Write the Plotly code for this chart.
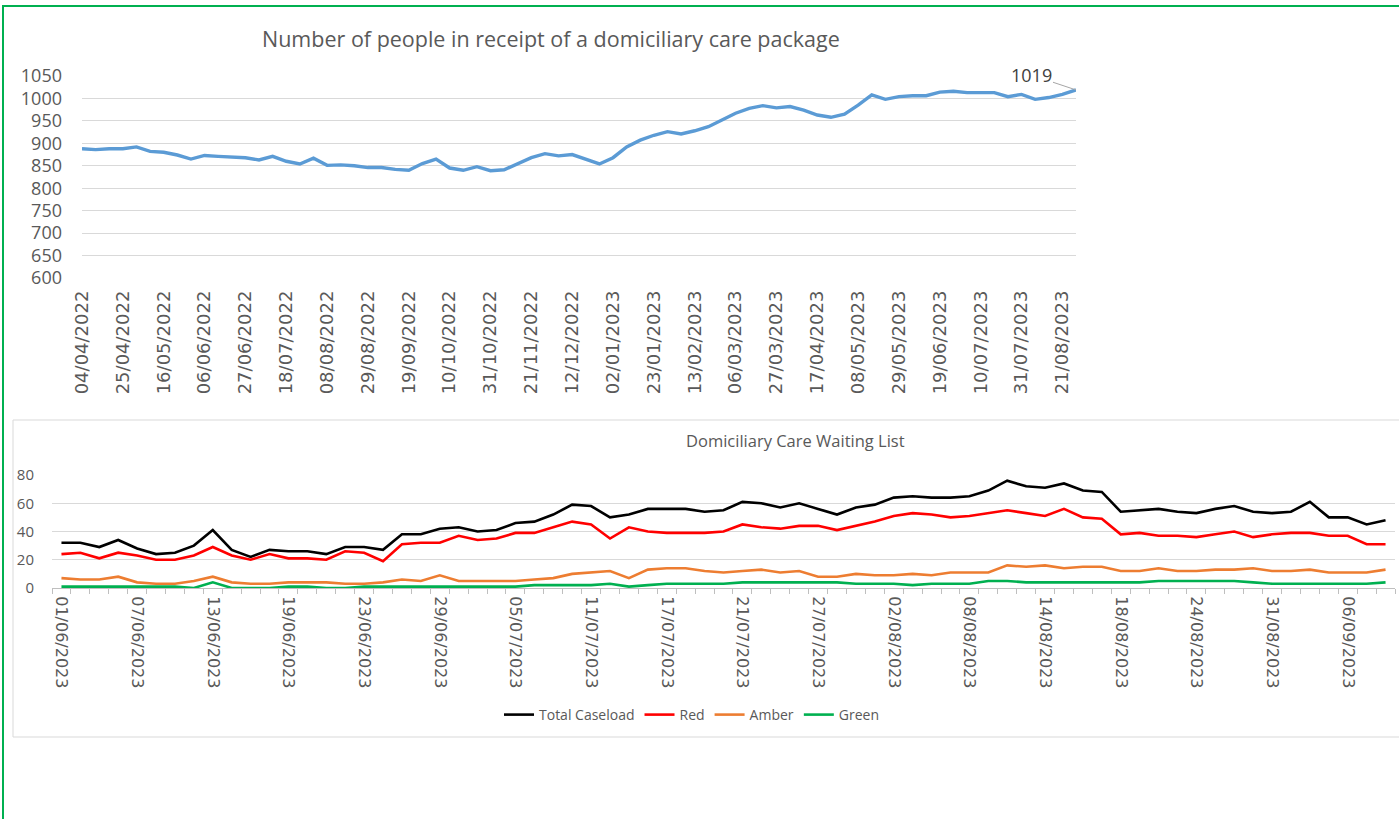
import pandas as pd
import plotly.graph_objects as go

W, H = 1399, 819

# ---- data: weekly count of people with a domiciliary care package ----
week_dates = pd.date_range("2022-04-04", periods=74, freq="7D").strftime("%d/%m/%Y").tolist()
care_packages = [
    888, 886, 888, 888, 892, 882, 880, 874, 865, 873,
    871, 870, 868, 863, 871, 860, 854, 867, 851, 852,
    850, 846, 846, 842, 840, 855, 865, 845, 840, 848,
    839, 841, 855, 868, 877, 872, 875, 865, 854, 868,
    892, 907, 918, 926, 921, 928, 937, 952, 967, 978,
    984, 979, 982, 974, 963, 958, 965, 985, 1008, 998,
    1004, 1006, 1006, 1014, 1016, 1013, 1013, 1013, 1004, 1009,
    998, 1002, 1009, 1019,
]

# ---- data: waiting list (working days, 28/08 bank holiday excluded) ----
wl_dates = [d for d in pd.bdate_range("2023-06-01", "2023-09-08") if d != pd.Timestamp("2023-08-28")]
wl_dates = [d.strftime("%d/%m/%Y") for d in wl_dates]
total_caseload = [
    32, 32, 29, 34, 28, 24, 25, 30, 41, 27, 22, 27, 26, 26, 24, 29, 29, 27, 38, 38,
    42, 43, 40, 41, 46, 47, 52, 59, 58, 50, 52, 56, 56, 56, 54, 55, 61, 60, 57, 60,
    56, 52, 57, 59, 64, 65, 64, 64, 65, 69, 76, 72, 71, 74, 69, 68, 54, 55, 56, 54,
    53, 56, 58, 54, 53, 54, 61, 50, 50, 45, 48,
]
red = [
    24, 25, 21, 25, 23, 20, 20, 23, 29, 23, 20, 24, 21, 21, 20, 26, 25, 19, 31, 32,
    32, 37, 34, 35, 39, 39, 43, 47, 45, 35, 43, 40, 39, 39, 39, 40, 45, 43, 42, 44,
    44, 41, 44, 47, 51, 53, 52, 50, 51, 53, 55, 53, 51, 56, 50, 49, 38, 39, 37, 37,
    36, 38, 40, 36, 38, 39, 39, 37, 37, 31, 31,
]
amber = [
    7, 6, 6, 8, 4, 3, 3, 5, 8, 4, 3, 3, 4, 4, 4, 3, 3, 4, 6, 5,
    9, 5, 5, 5, 5, 6, 7, 10, 11, 12, 7, 13, 14, 14, 12, 11, 12, 13, 11, 12,
    8, 8, 10, 9, 9, 10, 9, 11, 11, 11, 16, 15, 16, 14, 15, 15, 12, 12, 14, 12,
    12, 13, 13, 14, 12, 12, 13, 11, 11, 11, 13,
]
green = [
    1, 1, 1, 1, 1, 1, 1, 0, 4, 0, 0, 0, 1, 1, 0, 0, 1, 1, 1, 1,
    1, 1, 1, 1, 1, 2, 2, 2, 2, 3, 1, 2, 3, 3, 3, 3, 4, 4, 4, 4,
    4, 4, 3, 3, 3, 2, 3, 3, 3, 5, 5, 4, 4, 4, 4, 4, 4, 4, 5, 5,
    5, 5, 5, 4, 3, 3, 3, 3, 3, 3, 4,
]

SERIES = [
    ("Total Caseload", total_caseload, "#000000"),
    ("Red", red, "#FF0000"),
    ("Amber", amber, "#ED7D31"),
    ("Green", green, "#00B050"),
]

GREY_TXT = "#595959"
GRID = "#D9D9D9"


def px(x):
    return x / W


def py(y):
    return 1 - y / H


fig = go.Figure()

# top chart
fig.add_trace(go.Scatter(
    x=week_dates, y=care_packages, mode="lines",
    line=dict(color="#5B9BD5", width=3.4),
    showlegend=False, xaxis="x", yaxis="y",
))

# bottom chart
for name, vals, col in SERIES:
    fig.add_trace(go.Scatter(
        x=wl_dates, y=vals, mode="lines", name=name,
        line=dict(color=col, width=2.6),
        xaxis="x2", yaxis="y2",
    ))

wl_ticktext = [d if i % 4 == 0 else "" for i, d in enumerate(wl_dates)]

fig.update_layout(
    width=W, height=H,
    margin=dict(l=0, r=0, t=0, b=0, pad=0),
    paper_bgcolor="white",
    plot_bgcolor="rgba(0,0,0,0)",
    font=dict(family="Open Sans", color=GREY_TXT),
    xaxis=dict(
        domain=[px(82), px(1076)], anchor="y", type="category", automargin=False,
        range=[0, len(week_dates) - 1],
        tickmode="array", tickvals=week_dates[::3], ticktext=week_dates[::3],
        tickangle=-90, tickfont=dict(family="DejaVu Sans", size=18, color=GREY_TXT),
        showgrid=False, showline=False, ticks="", ticklabelstandoff=8,
    ),
    yaxis=dict(
        domain=[py(278), py(76)], anchor="x", automargin=False,
        range=[600, 1050], dtick=50, tick0=600,
        gridcolor=GRID, gridwidth=1, zeroline=False, showline=False,
        tickfont=dict(size=18, color=GREY_TXT), ticklabelstandoff=19,
    ),
    xaxis2=dict(
        domain=[px(52), px(1395)], anchor="y2", type="category", automargin=False,
        range=[-0.5, len(wl_dates) - 0.5],
        tickmode="array", tickvals=wl_dates, ticktext=wl_ticktext,
        tickson="boundaries", ticks="outside", ticklen=5, tickcolor="#BFBFBF",
        showline=True, linecolor="#BFBFBF", linewidth=1,
        tickangle=90, tickfont=dict(family="DejaVu Sans", size=16, color=GREY_TXT),
        ticklabelstandoff=4, showgrid=False,
    ),
    yaxis2=dict(
        domain=[py(588), py(475)], anchor="x2", automargin=False,
        range=[0, 80], dtick=20,
        gridcolor=GRID, gridwidth=1, zeroline=False, showline=False,
        tickfont=dict(size=15, color=GREY_TXT), ticklabelstandoff=17,
    ),
    legend=dict(
        orientation="h", x=px(692), xanchor="center", y=py(715), yanchor="middle",
        font=dict(size=14, color=GREY_TXT), bgcolor="rgba(0,0,0,0)",
        itemwidth=30, tracegroupgap=0,
    ),
    shapes=[
        dict(type="rect", xref="paper", yref="paper", layer="below",
             x0=px(3), x1=px(1403), y0=py(6), y1=py(840),
             line=dict(color="#00B050", width=2), fillcolor="rgba(0,0,0,0)"),
        dict(type="rect", xref="paper", yref="paper", layer="below",
             x0=px(13), x1=px(1410), y0=py(420), y1=py(737),
             line=dict(color=GRID, width=1), fillcolor="white"),
    ],
    annotations=[
        dict(text="Number of people in receipt of a domiciliary care package",
             xref="paper", yref="paper", x=px(551), y=py(38),
             xanchor="center", yanchor="middle", showarrow=False,
             font=dict(size=21.5, color=GREY_TXT)),
        dict(text="Domiciliary Care Waiting List",
             xref="paper", yref="paper", x=px(795), y=py(440),
             xanchor="center", yanchor="middle", showarrow=False,
             font=dict(size=16.5, color=GREY_TXT)),
        dict(text="1019", xref="x", yref="y", x=week_dates[-1], y=care_packages[-1],
             ax=-45, ay=-15, showarrow=True, arrowhead=0, arrowwidth=1,
             arrowcolor="#A6A6A6", standoff=0,
             font=dict(size=18, color="#404040")),
    ],
)

fig.write_html(
    "out.html",
    config={"displayModeBar": False},
    post_script="document.body.style.margin='0';document.body.style.overflow='hidden';",
)
